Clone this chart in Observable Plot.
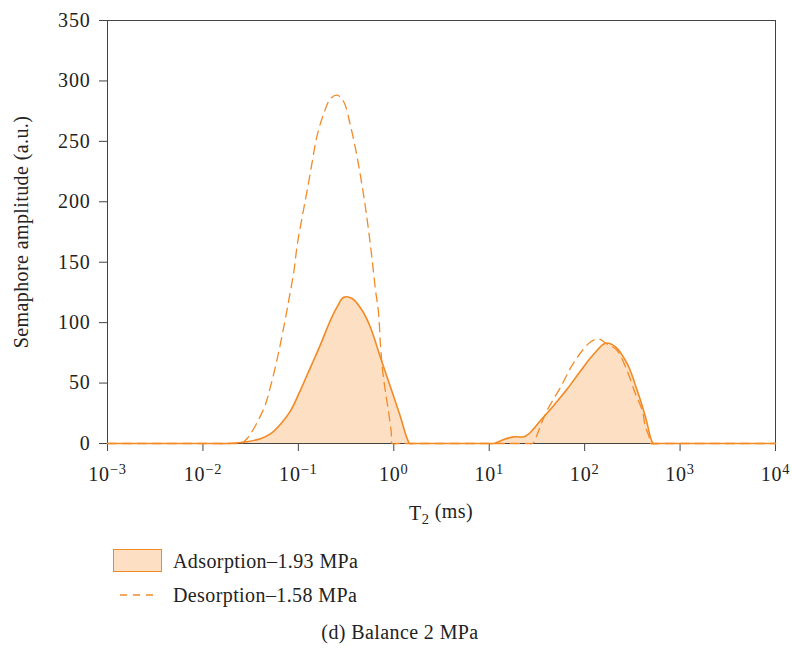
<!DOCTYPE html>
<html>
<head>
<meta charset="utf-8">
<script src="https://cdn.jsdelivr.net/npm/d3@7"></script>
<script src="https://cdn.jsdelivr.net/npm/@observablehq/plot@0.6"></script>
<style>
  body { margin: 0; background: #fff; font-family: "Liberation Serif", "Times New Roman", serif; color: #222; }
  #wrap { position: relative; width: 792px; height: 648px; }
  #chart { position: absolute; left: 0; top: 0; }
  .row { position: absolute; left: 113px; height: 26px; display: flex; align-items: center; font-size: 20px; letter-spacing: 0.4px; }
  .row .key { width: 60px; height: 26px; position: relative; }
  .swatch { position: absolute; left: 0; top: 1px; width: 47px; height: 21px; background: #fddfc4; border: 1.5px solid #f28a26; }
  #caption { position: absolute; left: 0; width: 800px; top: 621px; text-align: center; font-size: 20px; letter-spacing: 0.4px; }
</style>
</head>
<body>
<div id="wrap">
  <div id="chart"></div>
  <div class="row" style="top:548px"><div class="key"><div class="swatch"></div></div><span>Adsorption–1.93 MPa</span></div>
  <div class="row" style="top:582px"><div class="key"><svg width="60" height="26"><line x1="7" x2="43" y1="13" y2="13" stroke="#f28a26" stroke-width="1.3" stroke-dasharray="7,6"/></svg></div><span>Desorption–1.58 MPa</span></div>
  <div id="caption">(d) Balance 2 MPa</div>
</div>
<script>
// T2 relaxation time (ms) and amplitude for the adsorption run at 1.93 MPa
const adsT = [0.001, 0.012, 0.018, 0.0291, 0.0401, 0.051, 0.065, 0.0828, 0.105, 0.134, 0.171, 0.217, 0.255, 0.299, 0.366, 0.467, 0.570, 0.726, 0.925, 1.175, 1.381, 1.47, 1.6,
              10, 11.2, 14.2, 18.1, 23.0, 26.0, 34.5, 47.5, 65.6, 90.5, 124.8, 165.5, 210.5, 279, 355, 434, 511, 531, 600, 1000, 10000];
const adsA = [0, 0, 0, 1.5, 4, 8, 16, 27, 44, 63, 82, 102, 113, 121, 120, 110, 96, 71, 46.5, 22, 4, 0, 0,
              0, 0, 3.3, 5.5, 5.5, 8, 19, 31.5, 45, 60, 74, 83, 80, 66, 44, 22, 1, 0, 0, 0, 0];

// T2 relaxation time (ms) and amplitude for the desorption run at 1.58 MPa
const desT = [0.001, 0.015, 0.021, 0.025, 0.0291, 0.0435, 0.051, 0.060, 0.0704, 0.0794, 0.0896, 0.0972, 0.1097, 0.1238, 0.1397, 0.1575, 0.1848, 0.2175, 0.2553, 0.2994,
              0.3516, 0.4036, 0.455, 0.5012, 0.547, 0.5937, 0.6433, 0.6911, 0.7257, 0.7674, 0.8326, 0.8866, 0.9397, 0.9623, 1.1,
              25, 28.4, 30.6, 33.1, 40.5, 55.9, 77, 115, 140.6, 165.5, 219, 279, 341, 401, 434, 470, 490, 560, 1000, 10000];
const desA = [0, 0, 0, 0, 4.1, 29, 47, 70, 96.5, 118.6, 142, 164, 187.5, 209.6, 233, 255, 273, 285.5, 288.2, 282.6,
              263, 241, 218, 197, 175, 151.7, 127, 108.6, 81, 59, 38.6, 24.8, 9.6, 0, 0,
              0, 0, 4, 11, 27.5, 46.5, 67, 84, 86.5, 83, 77, 60, 41, 27.5, 13.5, 6.5, 0, 0, 0, 0];

const xTicks = [1e-3, 1e-2, 1e-1, 1e0, 1e1, 1e2, 1e3, 1e4];
const yTicks = [0, 50, 100, 150, 200, 250, 300, 350];

const orange = "#f28a26";
const peach = "#fddfc4";

const ads = adsT.map((t, i) => ({t, a: adsA[i]}));
const des = desT.map((t, i) => ({t, a: desA[i]}));

const plot = Plot.plot({
  width: 792,
  height: 540,
  marginLeft: 107,
  marginRight: 17,
  marginTop: 20,
  marginBottom: 97,
  style: { fontFamily: "'Liberation Serif', serif", fontSize: "20px", color: "#222", background: "transparent" },
  x: { type: "log", domain: [1e-3, 1e4] },
  y: { domain: [0, 350] },
  marks: [
    Plot.areaY(ads, { x: "t", y: "a", fill: peach, curve: "catmull-rom" }),
    Plot.frame({ stroke: "#444", strokeWidth: 1 }),
    Plot.axisX({ ticks: xTicks, tickSize: 8, tickPadding: 15, stroke: "#444",
                 tickFormat: d => String(Math.round(Math.log10(d))).replace("-", "−"), label: null }),
    Plot.axisY({ ticks: yTicks, tickSize: 8, tickPadding: 9, stroke: "#444", label: null }),
    Plot.lineY(des, { x: "t", y: "a", stroke: orange, strokeWidth: 1.3, strokeDasharray: "9,6", curve: "catmull-rom" }),
    Plot.lineY(ads, { x: "t", y: "a", stroke: orange, strokeWidth: 1.6, curve: "catmull-rom" })
  ]
});

const svg = d3.select(plot);

// powers of ten: base "10" with the exponent raised
svg.selectAll('g[aria-label="x-axis tick label"] text').each(function () {
  const e = this.textContent;
  const t = d3.select(this);
  t.text("10");
  t.append("tspan").attr("dy", "-0.45em").attr("font-size", "0.72em").text(e);
});
svg.selectAll('g[aria-label="x-axis tick label"], g[aria-label="y-axis tick label"]')
  .attr("letter-spacing", "0.8px");

// axis titles
svg.append("text")
  .attr("x", 441).attr("y", 520)
  .attr("text-anchor", "middle")
  .attr("letter-spacing", "0.4px")
  .attr("fill", "#222")
  .call(t => {
    t.append("tspan").text("T");
    t.append("tspan").attr("dy", "0.3em").attr("font-size", "0.72em").text("2");
    t.append("tspan").attr("dy", "-0.3em").text(" (ms)");
  });

svg.append("text")
  .attr("transform", "translate(28,232) rotate(-90)")
  .attr("text-anchor", "middle")
  .attr("letter-spacing", "0.4px")
  .attr("fill", "#222")
  .text("Semaphore amplitude (a.u.)");

document.getElementById("chart").appendChild(plot);
</script>
</body>
</html>
